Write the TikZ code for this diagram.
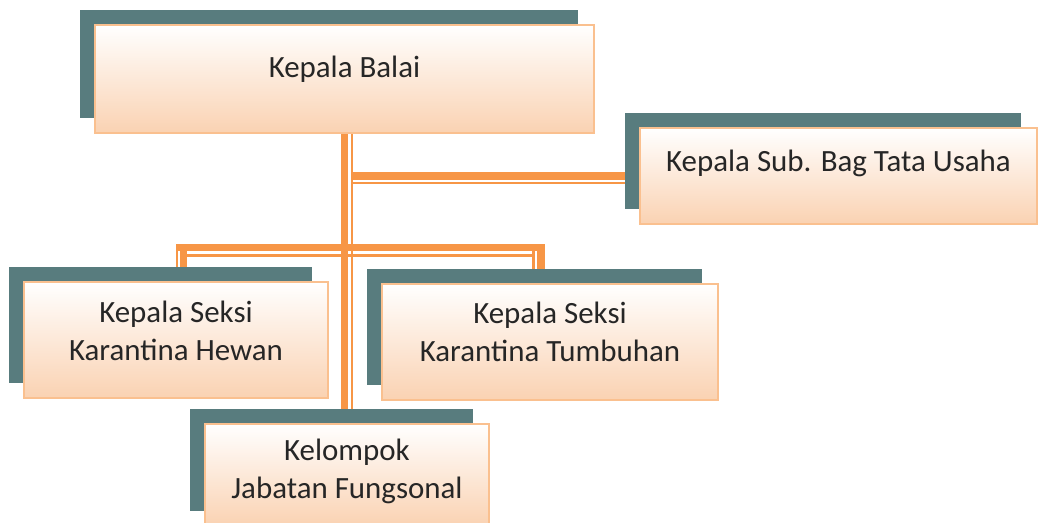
\documentclass[tikz,border=0pt]{standalone}
\usepackage{fontspec}
\setmainfont{Carlito}
\usetikzlibrary{positioning,calc,backgrounds,shadows}
\definecolor{linkorange}{RGB}{247,150,70}
\definecolor{boxborder}{RGB}{250,192,143}
\definecolor{boxpeach}{RGB}{250,210,178}
\definecolor{shadowteal}{RGB}{88,124,126}
\definecolor{textgray}{RGB}{38,38,38}

\begin{document}
\begin{tikzpicture}[
            x=0.02cm, y=-0.02cm,
            unit/.style={rectangle,draw=boxborder,line width=1.2pt,top color=white,bottom color=boxpeach,
                text=textgray,font=\fontsize{17.6}{21.5}\selectfont,align=center,inner sep=0pt,
                drop shadow={shadow xshift=-0.31cm,shadow yshift=0.31cm,fill=shadowteal,opacity=1}},
            trunk/.style={draw=linkorange,line width=4pt},
            trunkthin/.style={draw=linkorange,line width=1.2pt},
        ]
            \useasboundingbox (0,0) rectangle (1038,522);

            %--- Units ---%
            \node[unit,minimum width=9.98cm,minimum height=2.16cm,text depth=0.48cm] (balai) at (344.5,79) {Kepala Balai};
            \node[unit,minimum width=7.94cm,minimum height=1.92cm,text depth=0.6cm] (tatausaha) at (838.5,176) {Kepala Sub. Bag Tata Usaha};
            \node[unit,minimum width=6.08cm,minimum height=2.32cm,text depth=0.36cm] (hewan) at (176,340) {Kepala Seksi\\Karantina Hewan};
            \node[unit,minimum width=6.72cm,minimum height=2.32cm,text depth=0.40cm] (tumbuhan) at (550,342) {Kepala Seksi\\Karantina Tumbuhan};
            \node[unit,minimum width=5.68cm,minimum height=2.04cm,text depth=0.24cm] (kelompok) at (347,475) {Kelompok\\Jabatan Fungsonal};

            %--- Connectors (behind the units) ---%
            \begin{scope}[on background layer]
                \draw[trunk] (balai.south) -- (balai.south |- kelompok.north);
                \draw[trunkthin] ($(balai.south)+(7.5,0)$) -- ($(balai.south |- kelompok.north)+(7.5,0)$);

                \draw[trunk] ($(balai.south |- tatausaha.west)+(8,0)$) -- (tatausaha.west);
                \draw[trunkthin] ($(balai.south |- tatausaha.west)+(8,7)$) -- ($(tatausaha.west)+(0,7)$);

                \coordinate (barL) at (176,247.5);
                \coordinate (barR) at (544,247.5);
                \draw[trunk] (barL) -- (barR);
                \draw[trunkthin] ($(barL)+(11,8)$) -- ($(barR)+(-12,8)$);
                \draw[trunk] ($(barL)+(7.5,-3.5)$) -- ++(0,40);
                \draw[trunkthin] ($(barL)+(1,3.5)$) -- ++(0,32);
                \draw[trunk] ($(barR)+(-3,-3.5)$) -- ++(0,40);
                \draw[trunkthin] ($(barR)+(-10.5,3.5)$) -- ++(0,32);
            \end{scope}

        \end{tikzpicture}
\end{document}
